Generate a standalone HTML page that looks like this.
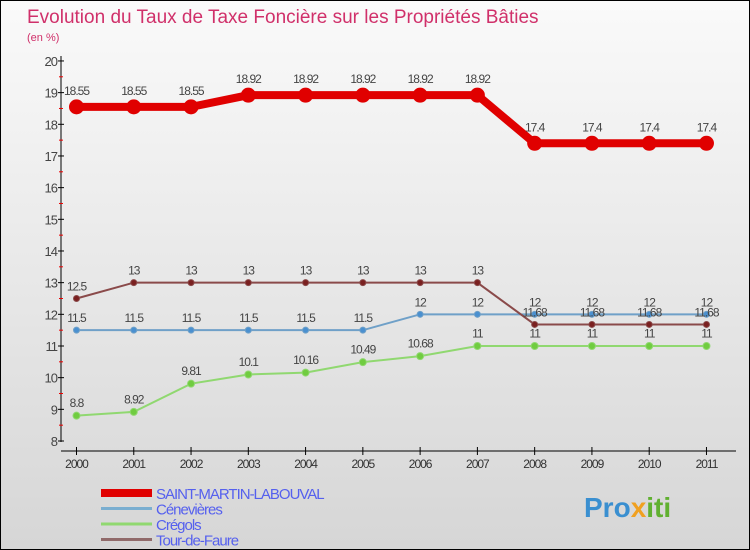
<!DOCTYPE html>
<html><head><meta charset="utf-8"><style>
body{margin:0}
#c{width:750px;height:550px;position:relative;background:linear-gradient(#fafafa,#d6d6d6);border:1px solid #000;box-sizing:border-box;font-family:"Liberation Sans",sans-serif;overflow:hidden}
</style></head><body>
<div id="c">
<svg width="750" height="550" style="position:absolute;left:0;top:0" id="s">
<text x="26" y="22" font-size="19" fill="#d0306a">Evolution du Taux de Taxe Foncière sur les Propriétés Bâties</text>
<text x="26" y="40" font-size="11" fill="#d0306a">(en %)</text>
<text x="583" y="516" font-size="28" font-weight="bold" fill="#3a8fd0">Pro<tspan fill="#f0a020">x</tspan><tspan fill="#60b030">iti</tspan></text>
</svg>
</div>
<script>
const years=[2000,2001,2002,2003,2004,2005,2006,2007,2008,2009,2010,2011];
const seriesNames=["SAINT-MARTIN-LABOUVAL","Cénevières","Crégols","Tour-de-Faure"];
const stMartin=[18.55,18.55,18.55,18.92,18.92,18.92,18.92,18.92,17.4,17.4,17.4,17.4];
const cenevieres=[11.5,11.5,11.5,11.5,11.5,11.5,12,12,12,12,12,12];
const cregols=[8.8,8.92,9.81,10.1,10.16,10.49,10.68,11,11,11,11,11];
const tour=[12.5,13,13,13,13,13,13,13,11.68,11.68,11.68,11.68];
const yTicks=[8,9,10,11,12,13,14,15,16,17,18,19,20];
const NS="http://www.w3.org/2000/svg",s=document.getElementById('s');
const X=i=>75.5+i*57.27, Y=v=>440-(v-8)*31.67;
function el(t,a,n){const e=document.createElementNS(NS,t);for(const k in a)e.setAttribute(k,a[k]);


s.appendChild(e);return e;}
el('line',{x1:60,y1:55,x2:60,y2:441,stroke:'#000'},'y-axis');
el('line',{x1:60,y1:450,x2:735,y2:450,stroke:'#000'},'x-axis');
yTicks.forEach(v=>{el('line',{x1:57,x2:63,y1:Y(v),y2:Y(v),stroke:'#000'},'y-tick');
 if(v<20)el('line',{x1:58,x2:62,y1:Y(v+.5),y2:Y(v+.5),stroke:'#e00'},'y-minor-tick');
 const t=el('text',{x:56,y:Y(v)+5,'text-anchor':'end','font-size':13,fill:'#444','letter-spacing':'-1'},'y-tick-label');t.textContent=v;});
years.forEach((y,i)=>{el('line',{x1:X(i),x2:X(i),y1:446,y2:454,stroke:'#000'},'x-tick');
 const t=el('text',{x:X(i),y:467,'text-anchor':'middle','font-size':12,fill:'#333','letter-spacing':'-1'},'x-tick-label');t.textContent=y;});
function series(d,col,w,r,name,fill){
 el('polyline',{points:d.map((v,i)=>X(i)+','+Y(v)).join(' '),fill:'none',stroke:col,'stroke-width':w},name+'-line');
 d.forEach((v,i)=>{el('circle',{cx:X(i),cy:Y(v),r:r,fill:fill,stroke:col,'stroke-width':1},name+'-point');
 const t=el('text',{x:X(i),y:Y(v)-(r+5),'text-anchor':'middle','font-size':12,fill:'#444','letter-spacing':'-1'},name+'-value');t.textContent=v;});
}
series(cregols,'#90d870',2,3.5,'cregols','#70cc40');
series(cenevieres,'#6fa0c8',2,3,'cenevieres','#4a90d0');
series(tour,'#8a4a4a',2,3,'tour-de-faure','#7a2020');
series(stMartin,'#e00000',8,7,'saint-martin','#e00000');
const lc=['#e00000','#7aaed0','#90d870','#906a6a'],lw=[8,3,3,3];
seriesNames.forEach((n,i)=>{const y=492+i*15.5;
 el('line',{x1:100,x2:151,y1:y,y2:y,stroke:lc[i],'stroke-width':lw[i]},'legend-swatch');
 const t=el('text',{x:155,y:y+6,'font-size':15,fill:'#5560ee','letter-spacing':'-1'},'legend-entry');t.textContent=n;});
</script>
</body></html>
